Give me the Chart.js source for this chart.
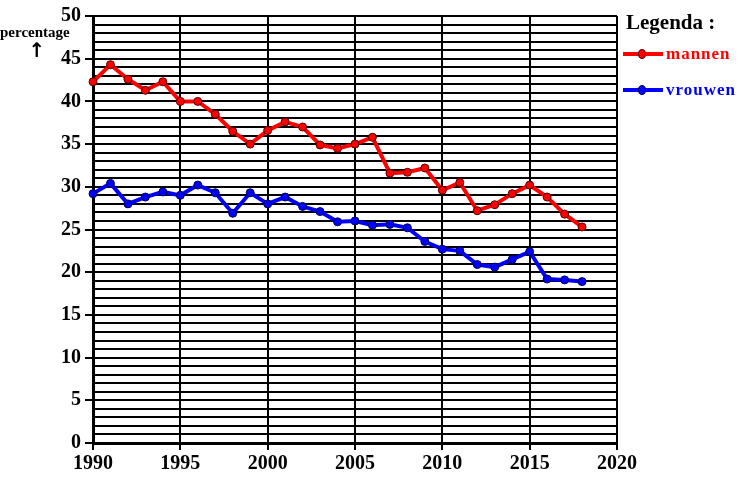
<!DOCTYPE html>
<html>
<head>
<meta charset="utf-8">
<script src="https://cdn.jsdelivr.net/npm/chart.js@4/dist/chart.umd.min.js"></script>
<style>
    body { margin: 0; background: #fff; }
    #wrap { position: relative; width: 745px; height: 477px; }
</style>
</head>
<body>
<div id="wrap"><canvas id="chart" width="745" height="477"></canvas></div>
<script>
// Data
const years = [1990, 1991, 1992, 1993, 1994, 1995, 1996, 1997, 1998, 1999,
    2000, 2001, 2002, 2003, 2004, 2005, 2006, 2007, 2008, 2009,
    2010, 2011, 2012, 2013, 2014, 2015, 2016, 2017, 2018];
const mannen = [42.3, 44.3, 42.6, 41.3, 42.3, 40.0, 40.0, 38.5, 36.5, 35.0,
    36.6, 37.6, 37.0, 34.9, 34.5, 35.0, 35.8, 31.6, 31.7, 32.2,
    29.6, 30.5, 27.2, 27.9, 29.2, 30.2, 28.8, 26.8, 25.3];
const vrouwen = [29.2, 30.4, 28.0, 28.8, 29.4, 29.0, 30.2, 29.3, 26.9, 29.3,
    28.0, 28.8, 27.7, 27.1, 25.9, 26.0, 25.5, 25.6, 25.2, 23.6,
    22.7, 22.5, 20.9, 20.6, 21.5, 22.4, 19.2, 19.1, 18.9];
const legendLabels = ['mannen', 'vrouwen'];
const seriesColors = ['#ff0000', '#0000ff'];
const markerBorders = ['#500000', '#000050'];

const serif = '"Liberation Serif", "Times New Roman", serif';

function toPoints(values) {
    return years.map((y, i) => ({ x: y, y: values[i] }));
}

// Title text and hand-made legend on the right side
const decorations = {
    id: 'decorations',
    afterDraw(chart) {
        const ctx = chart.ctx;
        ctx.save();
        ctx.fillStyle = '#000';
        ctx.font = 'bold 15px ' + serif;
        ctx.textAlign = 'left';
        ctx.textBaseline = 'alphabetic';
        ctx.fillText('percentage', 0, 37);
        ctx.font = 'bold 20px "DejaVu Sans", sans-serif';
        ctx.textAlign = 'center';
        ctx.fillText('\u2191', 37, 57);

        ctx.textAlign = 'left';
        ctx.font = 'bold 21px ' + serif;
        ctx.fillText('Legenda :', 626, 29);

        const rows = [54, 90];
        legendLabels.forEach((label, i) => {
            const y = rows[i];
            ctx.strokeStyle = seriesColors[i];
            ctx.lineWidth = 4;
            ctx.beginPath();
            ctx.moveTo(623, y);
            ctx.lineTo(663, y);
            ctx.stroke();
            ctx.fillStyle = seriesColors[i];
            ctx.strokeStyle = markerBorders[i];
            ctx.lineWidth = 1;
            ctx.beginPath();
            ctx.ellipse(642, y, 3.5, 4.5, 0, 0, Math.PI * 2);
            ctx.fill();
            ctx.stroke();
            ctx.font = 'bold 17px ' + serif;
            ctx.letterSpacing = '1px';
            ctx.textBaseline = 'middle';
            ctx.fillText(label, 666, y + 1);
            ctx.letterSpacing = '0px';
        });
        ctx.restore();
    }
};

new Chart(document.getElementById('chart'), {
    type: 'line',
    data: {
        datasets: [
            {
                label: legendLabels[0],
                data: toPoints(mannen),
                borderColor: seriesColors[0],
                backgroundColor: seriesColors[0],
                pointBackgroundColor: seriesColors[0],
                pointBorderColor: markerBorders[0],
                pointBorderWidth: 1,
                pointRadius: 4,
                borderWidth: 4,
                tension: 0,
                clip: false,
            },
            {
                label: legendLabels[1],
                data: toPoints(vrouwen),
                borderColor: seriesColors[1],
                backgroundColor: seriesColors[1],
                pointBackgroundColor: seriesColors[1],
                pointBorderColor: markerBorders[1],
                pointBorderWidth: 1,
                pointRadius: 4,
                borderWidth: 4,
                tension: 0,
                clip: false,
            },
        ],
    },
    options: {
        responsive: false,
        animation: false,
        layout: {
            padding: { left: 0, top: 13, right: 128, bottom: 0 },
        },
        plugins: {
            legend: { display: false },
            tooltip: { enabled: false },
        },
        scales: {
            x: {
                type: 'linear',
                min: 1990,
                max: 2020,
                afterFit: (scale) => { scale.height = 34; },
                ticks: {
                    stepSize: 5,
                    color: '#000',
                    font: { family: serif, size: 20, weight: 'bold' },
                    padding: 2,
                    callback: (v) => String(v),
                },
                grid: {
                    color: '#000',
                    lineWidth: 2,
                    tickLength: 7,
                    tickColor: '#000',
                },
                border: { color: '#000', width: 3 },
            },
            y: {
                min: 0,
                max: 50,
                afterFit: (scale) => { scale.width = 93; },
                ticks: {
                    stepSize: 1,
                    autoSkip: false,
                    color: '#000',
                    font: { family: serif, size: 20, weight: 'bold' },
                    padding: 4,
                    callback: (v) => (v % 5 === 0 ? String(v) : ''),
                },
                grid: {
                    color: '#000',
                    lineWidth: 2,
                    tickLength: 8,
                    tickColor: (ctx) => (ctx.tick && ctx.tick.value % 5 === 0 ? '#000' : 'rgba(0,0,0,0)'),
                },
                border: { color: '#000', width: 3 },
            },
        },
    },
    plugins: [decorations],
});
</script>
</body>
</html>
